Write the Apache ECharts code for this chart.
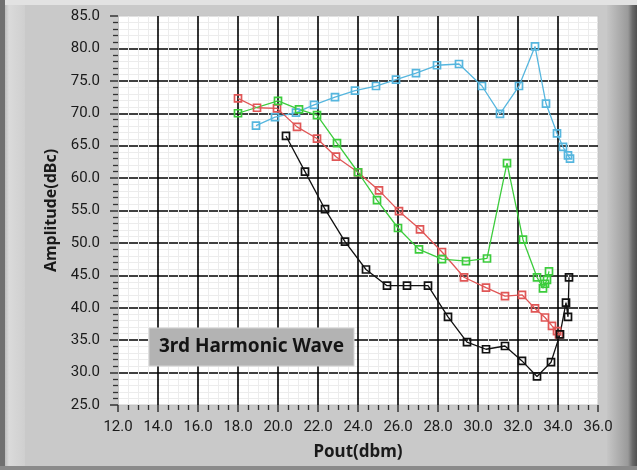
<!DOCTYPE html>
<html>
<head>
<meta charset="utf-8">
<script src="https://cdn.jsdelivr.net/npm/echarts@6/dist/echarts.min.js"></script>
<style>
html,body{margin:0;padding:0;background:#c9c9c9;}
#chart{width:637px;height:470px;}
</style>
</head>
<body>
<div id="chart"></div>
<script>
// Pout (dbm) / Amplitude (dBc) pairs for each curve
const cyanX  = [18.9, 19.85, 20.9, 21.8, 22.85, 23.85, 24.9, 25.9, 26.9, 27.95, 29.05, 30.2, 31.1, 32.05, 32.85, 33.4, 33.95, 34.25, 34.5, 34.6];
const cyanY  = [68.1, 69.4, 70.1, 71.3, 72.5, 73.5, 74.2, 75.2, 76.2, 77.4, 77.6, 74.2, 69.9, 74.2, 80.3, 71.5, 66.9, 64.8, 63.5, 63.0];
const redX   = [18.0, 18.95, 19.95, 20.95, 21.95, 22.9, 24.0, 25.05, 26.05, 27.1, 28.2, 29.3, 30.4, 31.35, 32.2, 32.85, 33.35, 33.7, 33.95, 34.05];
const redY   = [72.3, 70.85, 70.75, 67.9, 66.1, 63.3, 60.9, 58.1, 54.9, 52.1, 48.6, 44.7, 43.1, 41.8, 42.0, 39.9, 38.5, 37.2, 36.4, 35.9];
const greenX = [18.0, 20.0, 21.05, 21.95, 22.95, 24.0, 24.95, 26.0, 27.05, 28.2, 29.4, 30.45, 31.45, 32.25, 32.95, 33.25, 33.35, 33.45, 33.55];
const greenY = [70.0, 71.9, 70.6, 69.7, 65.4, 60.9, 56.6, 52.3, 49.0, 47.5, 47.2, 47.6, 62.3, 50.5, 44.7, 43.0, 43.7, 44.3, 45.6];
const blackX = [20.4, 21.35, 22.35, 23.35, 24.4, 25.45, 26.45, 27.5, 28.5, 29.45, 30.4, 31.35, 32.2, 32.95, 33.65, 34.1, 34.4, 34.5, 34.55];
const blackY = [66.5, 61.0, 55.2, 50.2, 45.9, 43.4, 43.4, 43.4, 38.6, 34.7, 33.6, 34.1, 31.8, 29.4, 31.6, 35.9, 40.8, 38.6, 44.7];
const xTicks = {min: 12, max: 36, step: 2};
const yTicks = {min: 25, max: 85, step: 5};
const chartLabel = '3rd Harmonic Wave';
const xName = 'Pout(dbm)';
const yName = 'Amplitude(dBc)';

function pairs(xs, ys){ return xs.map((x,i)=>[x, ys[i]]); }
function mkSeries(name, xs, ys, color){
  return {
    name, type:'line', data: pairs(xs, ys), symbol:'rect', symbolSize:7,
    showAllSymbol:true,
    lineStyle:{color, width:1.3},
    itemStyle:{color:'rgba(255,255,255,0)', borderColor:color, borderWidth:1.7},
    emphasis:{disabled:true}, animation:false, z:3
  };
}
const tickFont = {fontFamily:'Roboto, sans-serif', fontSize:15, color:'#1a1a1a'};
const chart = echarts.init(document.getElementById('chart'), null, {renderer:'canvas'});
chart.setOption({
  backgroundColor:'#c9c9c9',
  animation:false,
  grid:{left:118, top:16, right:39, bottom:65, show:true, backgroundColor:'#ffffff', borderColor:'#c4c4c4', borderWidth:1},
  xAxis:{
    type:'value', min:xTicks.min, max:xTicks.max, interval:xTicks.step,
    name:xName, nameLocation:'middle', nameGap:39,
    nameTextStyle:{fontFamily:'"Noto Sans", sans-serif', fontWeight:'bold', fontSize:17, color:'#1a1a1a'},
    axisLine:{show:true, lineStyle:{color:'#c4c4c4'}},
    axisTick:{show:true, inside:false, length:7, lineStyle:{color:'#333', width:1.5}},
    minorTick:{show:true, splitNumber:4, length:5, lineStyle:{color:'#333', width:1.3}},
    axisLabel:Object.assign({margin:15, formatter:v=>v.toFixed(1)}, tickFont),
    splitLine:{show:true, showMinLine:false, showMaxLine:false, lineStyle:{color:'#000', width:1.6}},
    minorSplitLine:{show:true, lineStyle:{color:'#ececec', width:1}}
  },
  yAxis:{
    type:'value', min:yTicks.min, max:yTicks.max, interval:yTicks.step,
    name:yName, nameLocation:'middle', nameGap:57, nameRotate:90,
    nameTextStyle:{fontFamily:'"Noto Sans", sans-serif', fontWeight:'bold', fontSize:16, color:'#1a1a1a'},
    axisLine:{show:true, lineStyle:{color:'#c4c4c4'}},
    axisTick:{show:true, inside:false, length:8, lineStyle:{color:'#333', width:1.5}},
    minorTick:{show:true, splitNumber:5, length:5, lineStyle:{color:'#333', width:1.3}},
    axisLabel:Object.assign({margin:18, formatter:v=>v.toFixed(1)}, tickFont),
    splitLine:{show:true, showMinLine:false, showMaxLine:false, lineStyle:{color:'#000', width:1.6}},
    minorSplitLine:{show:true, lineStyle:{color:'#ececec', width:1}}
  },
  graphic:[
    {type:'rect', shape:{x:0,y:0,width:637,height:5}, style:{fill:'#e2e2e2'}, z:-10, silent:true},
    {type:'rect', shape:{x:0,y:0,width:5,height:470}, style:{fill:'#707070'}, z:-9, silent:true},
    {type:'rect', shape:{x:5,y:5,width:20,height:462}, style:{fill:{type:'linear',x:0,y:0,x2:1,y2:0,colorStops:[{offset:0,color:'#bdbdbd'},{offset:0.2,color:'#dadada'},{offset:1,color:'#cfcfcf'}]}}, z:-9, silent:true},
    {type:'rect', shape:{x:607,y:5,width:30,height:462}, style:{fill:{type:'linear',x:0,y:0,x2:1,y2:0,colorStops:[{offset:0,color:'#c6c6c6'},{offset:0.7,color:'#9a9a9a'},{offset:0.85,color:'#6a6a6a'},{offset:1,color:'#505050'}]}}, z:-9, silent:true},
    {type:'rect', shape:{x:0,y:466,width:637,height:4}, style:{fill:'#8a8a8a'}, z:-9, silent:true},
    {type:'rect', z:100, zlevel:1, shape:{x:149,y:328,width:205,height:38}, style:{fill:'#b3b3b3', stroke:'#d4d4d4', lineWidth:1}, silent:true},
    {type:'text', z:101, zlevel:1, x:251.5, y:347, style:{text:chartLabel, fill:'#141414', font:'bold 19px "Noto Sans", sans-serif', textAlign:'center', textVerticalAlign:'middle'}, silent:true}
  ],
  series:[
    mkSeries('cyan', cyanX, cyanY, '#56b6de'),
    mkSeries('red', redX, redY, '#e05656'),
    mkSeries('green', greenX, greenY, '#3ccc3c'),
    mkSeries('black', blackX, blackY, '#111111')
  ]
});
</script>
</body>
</html>
